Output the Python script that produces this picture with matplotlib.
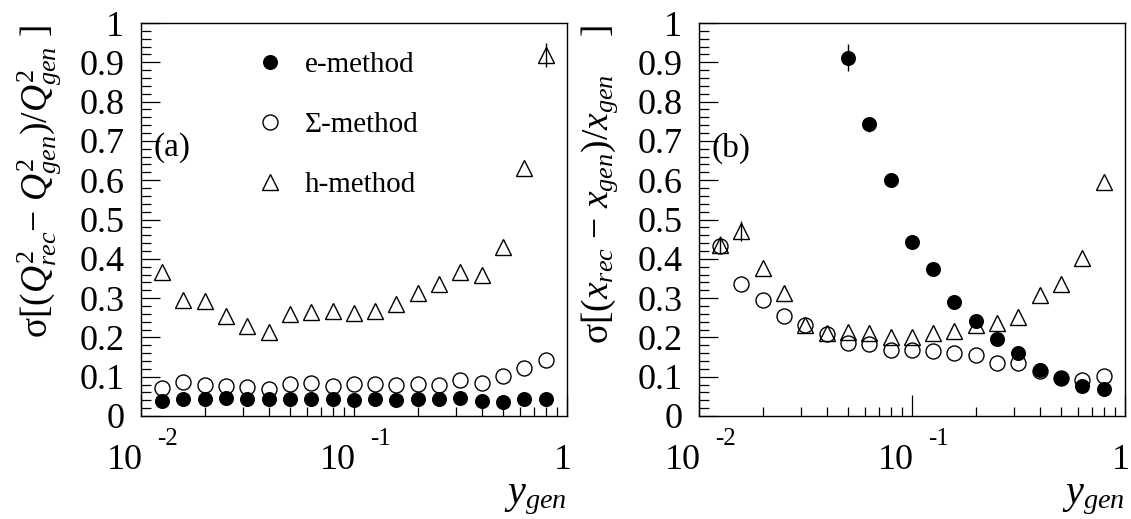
import numpy as np
import matplotlib
matplotlib.use('Agg')
import matplotlib.pyplot as plt
from matplotlib.transforms import blended_transform_factory, ScaledTranslation
from matplotlib.ticker import FixedLocator, NullFormatter, MultipleLocator, LogLocator
from matplotlib.lines import Line2D

plt.rcParams['font.family'] = ['Liberation Serif', 'DejaVu Serif']
plt.rcParams['mathtext.fontset'] = 'custom'
plt.rcParams['mathtext.rm'] = 'Liberation Serif'
plt.rcParams['mathtext.it'] = 'Liberation Serif:italic'
plt.rcParams['mathtext.bf'] = 'Liberation Serif:bold'

# ---------------- data ----------------
y_gen = [0.0126, 0.0158, 0.0200, 0.0251, 0.0316, 0.0398, 0.0501, 0.0631, 0.0794,
         0.100, 0.126, 0.158, 0.200, 0.251, 0.316, 0.398, 0.501, 0.631, 0.794]

# panel (a): sigma[(Q2rec - Q2gen)/Q2gen]
q2_e = [0.038, 0.043, 0.044, 0.047, 0.042, 0.043, 0.042, 0.044, 0.043, 0.041,
        0.042, 0.041, 0.043, 0.043, 0.045, 0.037, 0.036, 0.042, 0.042]
q2_s = [0.072, 0.086, 0.079, 0.077, 0.073, 0.069, 0.081, 0.083, 0.077, 0.081,
        0.081, 0.080, 0.081, 0.079, 0.092, 0.085, 0.103, 0.123, 0.142]
q2_h = [0.367, 0.295, 0.293, 0.254, 0.229, 0.214, 0.259, 0.264, 0.268, 0.261,
        0.268, 0.285, 0.312, 0.335, 0.367, 0.360, 0.430, 0.630, 0.918]
q2_h_err = [0, 0, 0, 0, 0, 0, 0, 0, 0, 0,
            0, 0, 0, 0, 0, 0, 0, 0, 0.030]

# panel (b): sigma[(xrec - xgen)/xgen]
x_e = [np.nan, np.nan, np.nan, np.nan, np.nan, np.nan, 0.912, 0.742, 0.600, 0.443,
       0.373, 0.291, 0.242, 0.195, 0.161, 0.117, 0.096, 0.076, 0.068]
x_e_err = [0, 0, 0, 0, 0, 0, 0.035, 0.020, 0, 0,
           0, 0, 0, 0, 0, 0, 0, 0, 0]
x_s = [0.432, 0.335, 0.295, 0.254, 0.231, 0.208, 0.185, 0.183, 0.168, 0.169,
       0.166, 0.161, 0.155, 0.136, 0.134, 0.115, 0.096, 0.092, 0.102]
x_h = [0.436, 0.470, 0.377, 0.312, 0.231, 0.210, 0.214, 0.212, 0.200, 0.200,
       0.212, 0.216, 0.231, 0.237, 0.253, 0.308, 0.337, 0.403, 0.596]
x_h_err = [0.022, 0.025, 0, 0, 0, 0, 0, 0, 0, 0,
           0, 0, 0, 0, 0, 0, 0, 0, 0]

y_ticks = [0, 0.1, 0.2, 0.3, 0.4, 0.5, 0.6, 0.7, 0.8, 0.9, 1.0]
y_tick_labels = ['0', '0.1', '0.2', '0.3', '0.4', '0.5', '0.6', '0.7', '0.8', '0.9', '1']
x_decades = [0.01, 0.1, 1.0]
x_decade_base = ['10', '10', '1']
x_decade_exp = ['-2', '-1', '']

legend_labels = ['e-method', 'Σ-method', 'h-method']
panel_tags = ['(a)', '(b)']
ylabels = [r'σ[($Q^2_{rec}$− $Q^2_{gen}$)/$Q^2_{gen}$ ]',
           r'σ[($x_{rec}$ − $x_{gen}$)/$x_{gen}$    ]']
xlabel = r'$y_{gen}$'

# ---------------- figure ----------------
W, H = 1131, 519
DPI = 100
fig = plt.figure(figsize=(W / DPI, H / DPI), dpi=DPI)

ax_l = fig.add_axes([141 / W, (H - 416) / H, 426 / W, 393 / H])
ax_r = fig.add_axes([699 / W, (H - 416) / H, 426 / W, 393 / H])

FILLED = dict(marker='o', ms=9.8, mfc='black', mec='black', ls='none')
OPEN_C = dict(marker='o', ms=10.8, mfc='none', mec='black', mew=1.0, ls='none')
OPEN_T = dict(marker='^', ms=11.5, mfc='none', mec='black', mew=1.0, ls='none')
EB = dict(ecolor='black', elinewidth=1.0, capsize=0)


def style_axes(ax):
    ax.set_xscale('log')
    ax.set_xlim(0.01, 1.0)
    ax.set_ylim(0, 1.0)
    ax.yaxis.set_major_locator(FixedLocator(y_ticks))
    ax.set_yticklabels(y_tick_labels)
    ax.yaxis.set_minor_locator(MultipleLocator(0.02))
    ax.xaxis.set_major_locator(FixedLocator(x_decades))
    ax.xaxis.set_minor_locator(LogLocator(base=10, subs=(2, 3, 4, 5, 6, 7, 8, 9)))
    ax.xaxis.set_major_formatter(NullFormatter())
    ax.xaxis.set_minor_formatter(NullFormatter())
    ax.tick_params(axis='y', which='major', direction='in', length=13.5, width=0.9,
                   labelsize=26, pad=12, right=False, left=True)
    ax.tick_params(axis='y', which='minor', direction='in', length=7, width=0.9,
                   right=False, left=True)
    ax.tick_params(axis='x', which='major', direction='in', length=15, width=0.9,
                   top=False, bottom=True)
    ax.tick_params(axis='x', which='minor', direction='in', length=6.5, width=0.9,
                   top=False, bottom=True)
    for s in ax.spines.values():
        s.set_linewidth(1.0)
    trans = blended_transform_factory(ax.transData, ax.transAxes)
    for v, b, e in zip(x_decades, x_decade_base, x_decade_exp):
        if e:
            ax.text(v, 0, b, transform=trans + ScaledTranslation(2 / DPI, -28 / DPI, fig.dpi_scale_trans),
                    ha='right', va='top', fontsize=26)
            ax.text(v, 0, e, transform=trans + ScaledTranslation(16 / DPI, -12 / DPI, fig.dpi_scale_trans),
                    ha='left', va='top', fontsize=18)
        else:
            ax.text(v, 0, b, transform=trans + ScaledTranslation(-4 / DPI, -28 / DPI, fig.dpi_scale_trans),
                    ha='center', va='top', fontsize=26)
    ax.text(1.0, -0.257, xlabel, transform=ax.transAxes, ha='right', va='bottom', fontsize=29)


# panel (a)
ax_l.errorbar(y_gen, q2_h, yerr=q2_h_err, **EB, **OPEN_T)
ax_l.plot(y_gen, q2_s, **OPEN_C)
ax_l.plot(y_gen, q2_e, **FILLED)
style_axes(ax_l)
ax_l.text(0.03, 0.682, panel_tags[0], transform=ax_l.transAxes, ha='left', va='center', fontsize=24)

handles = [Line2D([], [], **FILLED), Line2D([], [], **OPEN_C), Line2D([], [], **OPEN_T)]
ax_l.legend(handles, legend_labels, loc='upper left', bbox_to_anchor=(0.262, 0.927),
            frameon=False, fontsize=21, handletextpad=0.6, labelspacing=1.15,
            borderpad=0, borderaxespad=0, handlelength=1.2)

# panel (b)
ax_r.errorbar(y_gen, x_h, yerr=x_h_err, **EB, **OPEN_T)
ax_r.plot(y_gen, x_s, **OPEN_C)
ax_r.errorbar(y_gen, x_e, yerr=x_e_err, **EB, **FILLED)
style_axes(ax_r)
ax_r.text(0.03, 0.682, panel_tags[1], transform=ax_r.transAxes, ha='left', va='center', fontsize=24)

# y axis titles
fig.text(39 / W, 1 - 25 / H, ylabels[0], rotation=90, ha='center', va='top', fontsize=27)
fig.text(600 / W, 1 - 25 / H, ylabels[1], rotation=90, ha='center', va='top', fontsize=27)

fig.savefig('out.png', dpi=DPI)
